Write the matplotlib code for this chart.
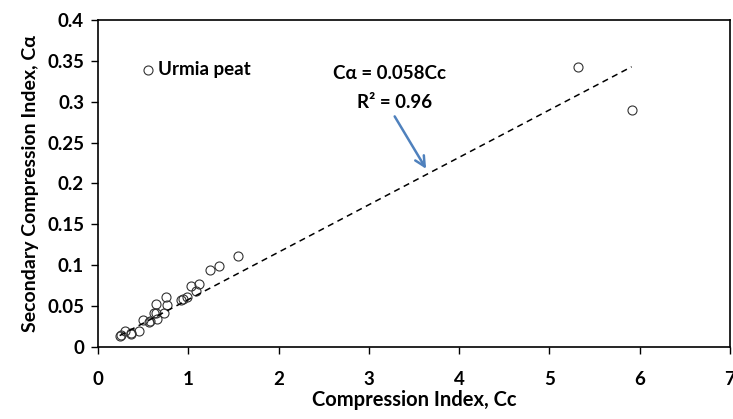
import matplotlib.pyplot as plt

plt.rcParams['font.family'] = ['Lato', 'DejaVu Sans']
plt.rcParams['font.weight'] = 'bold'

# Urmia peat data
cc = [5.32, 5.91, 1.55, 1.34, 1.24, 1.12, 1.03, 1.085, 0.99, 0.94, 0.92,
      0.75, 0.76, 0.64, 0.64, 0.62, 0.73, 0.65, 0.56, 0.50, 0.58, 0.45,
      0.37, 0.36, 0.30, 0.25, 0.24]
ca = [0.342, 0.290, 0.111, 0.099, 0.094, 0.077, 0.075, 0.069, 0.061, 0.059, 0.058,
      0.061, 0.051, 0.052, 0.042, 0.041, 0.041, 0.034, 0.030, 0.033, 0.032, 0.019,
      0.0175, 0.0165, 0.020, 0.015, 0.013]

slope = 0.058
fit_x = [min(cc), max(cc)]
fit_y = [slope * v for v in fit_x]

fig = plt.figure(figsize=(7.33, 4.19), dpi=100)
ax = fig.add_axes([98 / 733, 1 - 347 / 419, (730 - 98) / 733, (347 - 20) / 419])

ax.plot(cc, ca, 'o', mfc='none', mec='#333333', mew=0.8, ms=6.5)
ax.plot(fit_x, fit_y, '--', color='black', lw=1.1, dashes=(4, 3))

ax.set_xlim(0, 7)
ax.set_ylim(0, 0.4)
ax.set_xticks(range(0, 8))
ax.set_yticks([0, 0.05, 0.1, 0.15, 0.2, 0.25, 0.3, 0.35, 0.4])
ax.set_yticklabels(['0', '0.05', '0.1', '0.15', '0.2', '0.25', '0.3', '0.35', '0.4'])
ax.tick_params(direction='out', length=5, width=1, labelsize=13.5, pad=5)
ax.tick_params(axis='x', pad=12)
for s in ax.spines.values():
    s.set_linewidth(1.2)

ax.set_xlabel('Compression Index, Cc', fontsize=14.5, fontweight='bold', labelpad=2)
ax.set_ylabel('Secondary Compression Index, C\u03b1', fontsize=14, fontweight='bold', labelpad=6)

# legend-like marker
ax.plot([0.55], [0.339], 'o', mfc='none', mec='#333333', mew=0.8, ms=6.5)
ax.text(0.67, 0.339, 'Urmia peat', fontsize=13.5, fontweight='bold', va='center')

ax.text(3.23, 0.335, 'C\u03b1 = 0.058Cc', fontsize=13.5, fontweight='bold', ha='center', va='center')
ax.text(3.29, 0.299, 'R\u00b2 = 0.96', fontsize=13.5, fontweight='bold', ha='center', va='center')
ax.annotate('', xy=(3.65, 0.215), xytext=(3.27, 0.285),
            arrowprops=dict(arrowstyle='->', color='#4f81bd', lw=1.8, mutation_scale=18))

fig.savefig('out.png', dpi=100)
